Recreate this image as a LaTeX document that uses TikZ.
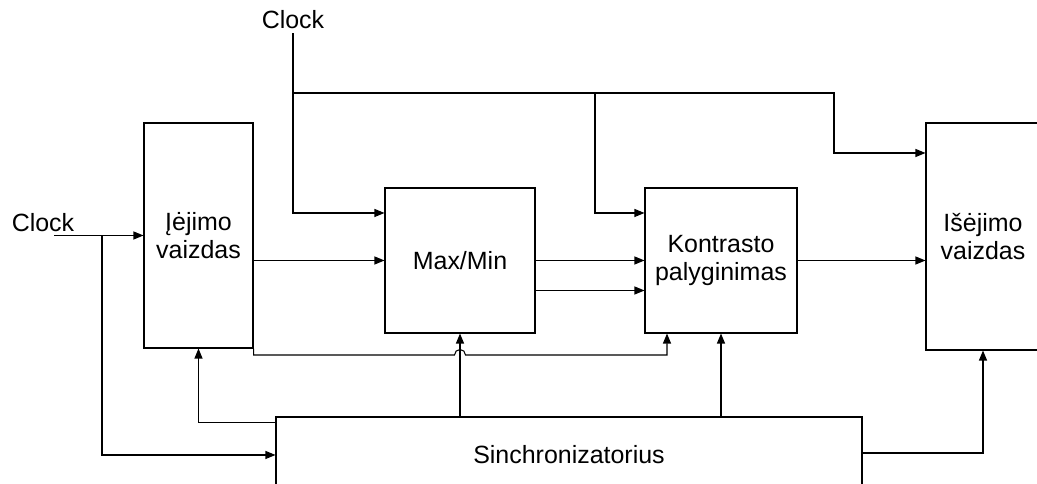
\documentclass[tikz,border=0pt]{standalone}
\usepackage{fontspec}
\setmainfont{Liberation Sans}
\usetikzlibrary{arrows.meta}

\begin{document}
\begin{tikzpicture}[
    blk/.style={draw, line width=0.6pt, align=center, inner sep=0pt,
        font=\fontsize{14.2}{16}\selectfont},
    lbl/.style={inner sep=0pt, font=\fontsize{14.2}{16}\selectfont},
    sig/.style={line width=0.6pt, -{Triangle[length=0.2cm,width=0.16cm]}}
]
    \useasboundingbox (0,0) rectangle (20.74,9.68);

    % blocks
    \node[blk, minimum width=2.18cm, minimum height=4.5cm] (inp) at (3.97,4.97) {Įėjimo\\vaizdas};
    \node[blk, minimum width=3cm, minimum height=2.9cm] (mm) at (9.2,4.47) {Max/Min};
    \node[blk, minimum width=3.04cm, minimum height=2.9cm] (kp) at (14.42,4.47) {Kontrasto\\palyginimas};
    \node[blk, minimum width=2.28cm, minimum height=4.54cm] (out) at (19.66,4.95) {Išėjimo\\vaizdas};
    \node[blk, minimum width=11.72cm, minimum height=1.52cm] (sync) at (11.38,0.58) {Sinchronizatorius};

    % clock inputs
    \node[lbl, anchor=base] (clkT) at (5.86,9.10) {Clock};
    \node[lbl, anchor=base] (clkL) at (0.86,5.05) {Clock};
    \coordinate (clkLin) at (1.08,4.97);
    \coordinate (tapT) at (clkT.south |- 0,7.82);
    \coordinate (tapK) at (11.9,7.82);

    \draw[sig] ([yshift=-2pt]clkT.south) |- ([yshift=0.95cm]mm.west);
    \draw[sig] (tapT) -- (tapK) |- ([yshift=0.95cm]kp.west);
    \draw[sig] (tapK) -- (16.68,7.82) |- ([yshift=1.67cm]out.west);
    \draw[sig] (clkLin) -- (inp.west);
    \draw[sig] (2.04,4.97) |- (sync.west);

    % data path
    \draw[sig] (inp.east |- mm.west) -- (mm.west);
    \draw[sig] (mm.east) -- (kp.west);
    \draw[sig] ([yshift=-0.6cm]mm.east) -- ([yshift=-0.6cm]kp.west);
    \draw[sig] (kp.east) -- (kp.east -| out.west);

    % bypass under Max/Min, hopping over its sync line
    \coordinate (jmp) at (mm.south |- 0,2.58);
    \draw[sig] (inp.south east) |- ([xshift=-0.11cm]jmp)
        arc[start angle=180, end angle=0, radius=0.11cm] -| ([xshift=-1.08cm]kp.south);

    % sync lines
    \draw[sig] ([yshift=-0.12cm]sync.north west) -| (inp.south);
    \foreach \b in {mm,kp}
    \draw[sig] (\b.south |- sync.north) -- (\b.south);
    \draw[sig] ([yshift=0.04cm]sync.east) -| (out.south);
\end{tikzpicture}
\end{document}
